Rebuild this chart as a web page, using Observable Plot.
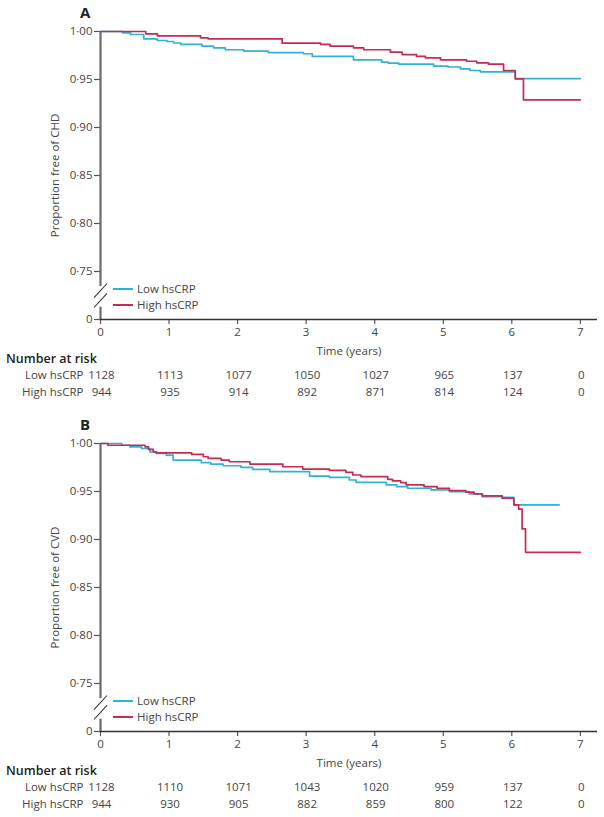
<!DOCTYPE html>
<html>
<head>
<meta charset="utf-8">
<script src="https://cdn.jsdelivr.net/npm/d3@7"></script>
<script src="https://cdn.jsdelivr.net/npm/@observablehq/plot@0.6"></script>
<style>
  html, body { margin: 0; padding: 0; background: #fff; }
  #root { position: relative; width: 604px; height: 817px; font-family: "Open Sans", sans-serif; color: #333; }
  .abs { position: absolute; }
  .letter { font-weight: bold; font-size: 15px; color: #222; }
  .nrisk { font-weight: 600; font-size: 12.5px; color: #222; }
  .legline { height: 2px; width: 20px; }
  .legtext { font-size: 11.5px; color: #444; line-height: 14px; }
</style>
</head>
<body>
<div id="root"></div>
<script>
// ---------- data ----------
const groups = ["Low hsCRP", "High hsCRP"];
const colors = ["#2db3d9", "#c92a52"];
const timeTicks = [0, 1, 2, 3, 4, 5, 6, 7];
const yTicks = [0.70, 0.75, 0.80, 0.85, 0.90, 0.95, 1.00];

// Panel A: CHD
const chdLowT = [0, 0.32, 0.44, 0.63, 0.83, 0.97, 1.07, 1.17, 1.48, 1.65, 1.82, 2.09, 2.45, 2.96, 3.09, 3.69, 4.10, 4.20, 4.35, 4.86, 5.07, 5.25, 5.39, 5.54, 6.05, 7.0];
const chdLowS = [1, 0.9986, 0.9969, 0.9924, 0.9906, 0.9896, 0.988, 0.9865, 0.9847, 0.983, 0.981, 0.9795, 0.978, 0.9768, 0.974, 0.9705, 0.968, 0.967, 0.966, 0.9639, 0.963, 0.961, 0.9594, 0.958, 0.951, 0.951];
const chdHighT = [0, 0.66, 0.83, 1.46, 1.57, 2.65, 3.21, 3.35, 3.69, 3.84, 4.23, 4.40, 4.61, 4.74, 4.96, 5.34, 5.49, 5.66, 5.88, 6.05, 6.17, 7.0];
const chdHighS = [1, 0.9976, 0.9955, 0.9934, 0.9924, 0.9878, 0.9865, 0.9847, 0.983, 0.981, 0.9785, 0.976, 0.974, 0.9726, 0.9705, 0.969, 0.9674, 0.966, 0.9594, 0.9507, 0.9288, 0.9288];
const chdRiskLow = [1128, 1113, 1077, 1050, 1027, 965, 137, 0];
const chdRiskHigh = [944, 935, 914, 892, 871, 814, 124, 0];

// Panel B: CVD
const cvdLowT = [0, 0.31, 0.43, 0.60, 0.72, 0.82, 0.96, 1.06, 1.47, 1.61, 1.79, 2.05, 2.22, 2.47, 3.05, 3.34, 3.63, 3.73, 4.17, 4.32, 4.48, 4.82, 5.09, 5.38, 5.57, 5.86, 6.03, 6.69];
const cvdLowS = [1, 0.9982, 0.9965, 0.9948, 0.9913, 0.9896, 0.9879, 0.9827, 0.980, 0.9786, 0.9768, 0.9751, 0.973, 0.9706, 0.9661, 0.9648, 0.962, 0.9596, 0.9568, 0.9551, 0.9534, 0.9517, 0.9499, 0.9475, 0.9447, 0.944, 0.936, 0.936];
const cvdHighT = [0, 0.11, 0.65, 0.70, 0.77, 0.81, 1.33, 1.50, 1.57, 1.76, 1.88, 2.18, 2.66, 2.95, 3.34, 3.58, 3.68, 3.80, 4.19, 4.26, 4.38, 4.46, 4.72, 4.91, 5.09, 5.33, 5.45, 5.57, 5.86, 6.03, 6.10, 6.15, 6.20, 7.0];
const cvdHighS = [1, 0.9982, 0.9965, 0.9938, 0.9913, 0.9903, 0.9886, 0.9862, 0.9845, 0.9827, 0.981, 0.9786, 0.9758, 0.9734, 0.972, 0.970, 0.9672, 0.9654, 0.9627, 0.961, 0.9592, 0.9568, 0.9551, 0.9534, 0.951, 0.9493, 0.9475, 0.9454, 0.943, 0.936, 0.9317, 0.911, 0.8866, 0.8866];
const cvdRiskLow = [1128, 1110, 1071, 1043, 1020, 959, 137, 0];
const cvdRiskHigh = [944, 930, 905, 882, 859, 800, 122, 0];

// axis break (the "0" label sits at the bottom of the domain)
const yBottom = 0.70;
const breakLo = 0.7128, breakHi = 0.7344;
const slashCenters = [0.7302, 0.7198];
const xMax = 7.25;

// ---------- drawing ----------
const root = document.getElementById("root");
const fmt = d => d < 0.72 ? "0" : d.toFixed(2).replace(".", "·");

function place(el, left, top) {
  const w = document.createElement("div");
  w.className = "abs";
  w.style.left = left + "px";
  w.style.top = top + "px";
  w.appendChild(el);
  root.appendChild(w);
  return w;
}
function html(cls, text, left, top, extra) {
  const d = document.createElement("div");
  d.className = "abs " + cls;
  d.style.left = left + "px";
  d.style.top = top + "px";
  if (text != null) d.textContent = text;
  if (extra) Object.assign(d.style, extra);
  root.appendChild(d);
  return d;
}

function panel(off, letter, ylabel, lowT, lowS, highT, highS, riskLow, riskHigh) {
  const rows = [];
  lowT.forEach((t, i) => rows.push({group: groups[0], t, s: lowS[i]}));
  highT.forEach((t, i) => rows.push({group: groups[1], t, s: highS[i]}));

  const axisSeg = [{x: 0, y1: yBottom, y2: breakLo}, {x: 0, y1: breakHi, y2: 1.0}];
  const dy = 0.0073, dx = 0.095;
  const slashes = slashCenters.map(y => ({x1: -dx, y1: y - dy, x2: dx, y2: y + dy}));

  const chart = Plot.plot({
    width: 604, height: 360,
    marginLeft: 100, marginRight: 7, marginTop: 31, marginBottom: 41,
    x: {domain: [0, xMax]},
    y: {domain: [yBottom, 1.0]},
    color: {domain: groups, range: colors},
    style: {fontFamily: "Open Sans", fontSize: "11.5px", color: "#444", overflow: "visible", background: "transparent"},
    marks: [
      Plot.axisY({ticks: yTicks, tickFormat: fmt, tickSize: 6, tickPadding: 2, stroke: "#555", strokeWidth: 1.2,
        label: ylabel, labelAnchor: "center", labelArrow: "none", labelOffset: 50}),
      Plot.axisX({ticks: timeTicks, tickSize: 5, tickPadding: 3, stroke: "#555", strokeWidth: 1.2,
        label: "Time (years)", labelAnchor: "center", labelArrow: "none", labelOffset: 35}),
      Plot.ruleX(axisSeg, {x: "x", y1: "y1", y2: "y2", stroke: "#6a6a6a", strokeWidth: 2.2}),
      Plot.ruleY([yBottom], {x1: 0, x2: xMax, stroke: "#333", strokeWidth: 1.6}),
      Plot.link(slashes, {x1: "x1", y1: "y1", x2: "x2", y2: "y2", stroke: "#333", strokeWidth: 1.1}),
      Plot.line(rows, {x: "t", y: "s", z: "group", stroke: "group", curve: "step-after", strokeWidth: 1.7})
    ]
  });
  place(chart, 0, off);

  html("letter", letter, 80, off + 2);

  // legend
  groups.forEach((g, i) => {
    html("legline", null, 113, off + 288 + i * 16, {background: colors[i]});
    html("legtext", g, 137, off + 282 + i * 16);
  });

  // number at risk
  html("nrisk", "Number at risk", 6, off + 350);
  const risk = [];
  timeTicks.forEach((t, i) => {
    risk.push({group: groups[0], t, n: riskLow[i]});
    risk.push({group: groups[1], t, n: riskHigh[i]});
  });
  const table = Plot.plot({
    width: 604, height: 34,
    marginLeft: 100, marginRight: 7, marginTop: 0, marginBottom: 0,
    x: {domain: [0, xMax], axis: null},
    y: {domain: groups, type: "band", padding: 0},
    style: {fontFamily: "Open Sans", fontSize: "11.5px", color: "#444", overflow: "visible", background: "transparent"},
    marks: [
      Plot.axisY({tickSize: 0, tickPadding: 17, label: null}),
      Plot.text(risk, {x: "t", y: "group", text: d => String(d.n), dx: 1, fill: "#444"})
    ]
  });
  place(table, 0, off + 366);
}

panel(0, "A", "Proportion free of CHD", chdLowT, chdLowS, chdHighT, chdHighS, chdRiskLow, chdRiskHigh);
panel(412, "B", "Proportion free of CVD", cvdLowT, cvdLowS, cvdHighT, cvdHighS, cvdRiskLow, cvdRiskHigh);
</script>
</body>
</html>
